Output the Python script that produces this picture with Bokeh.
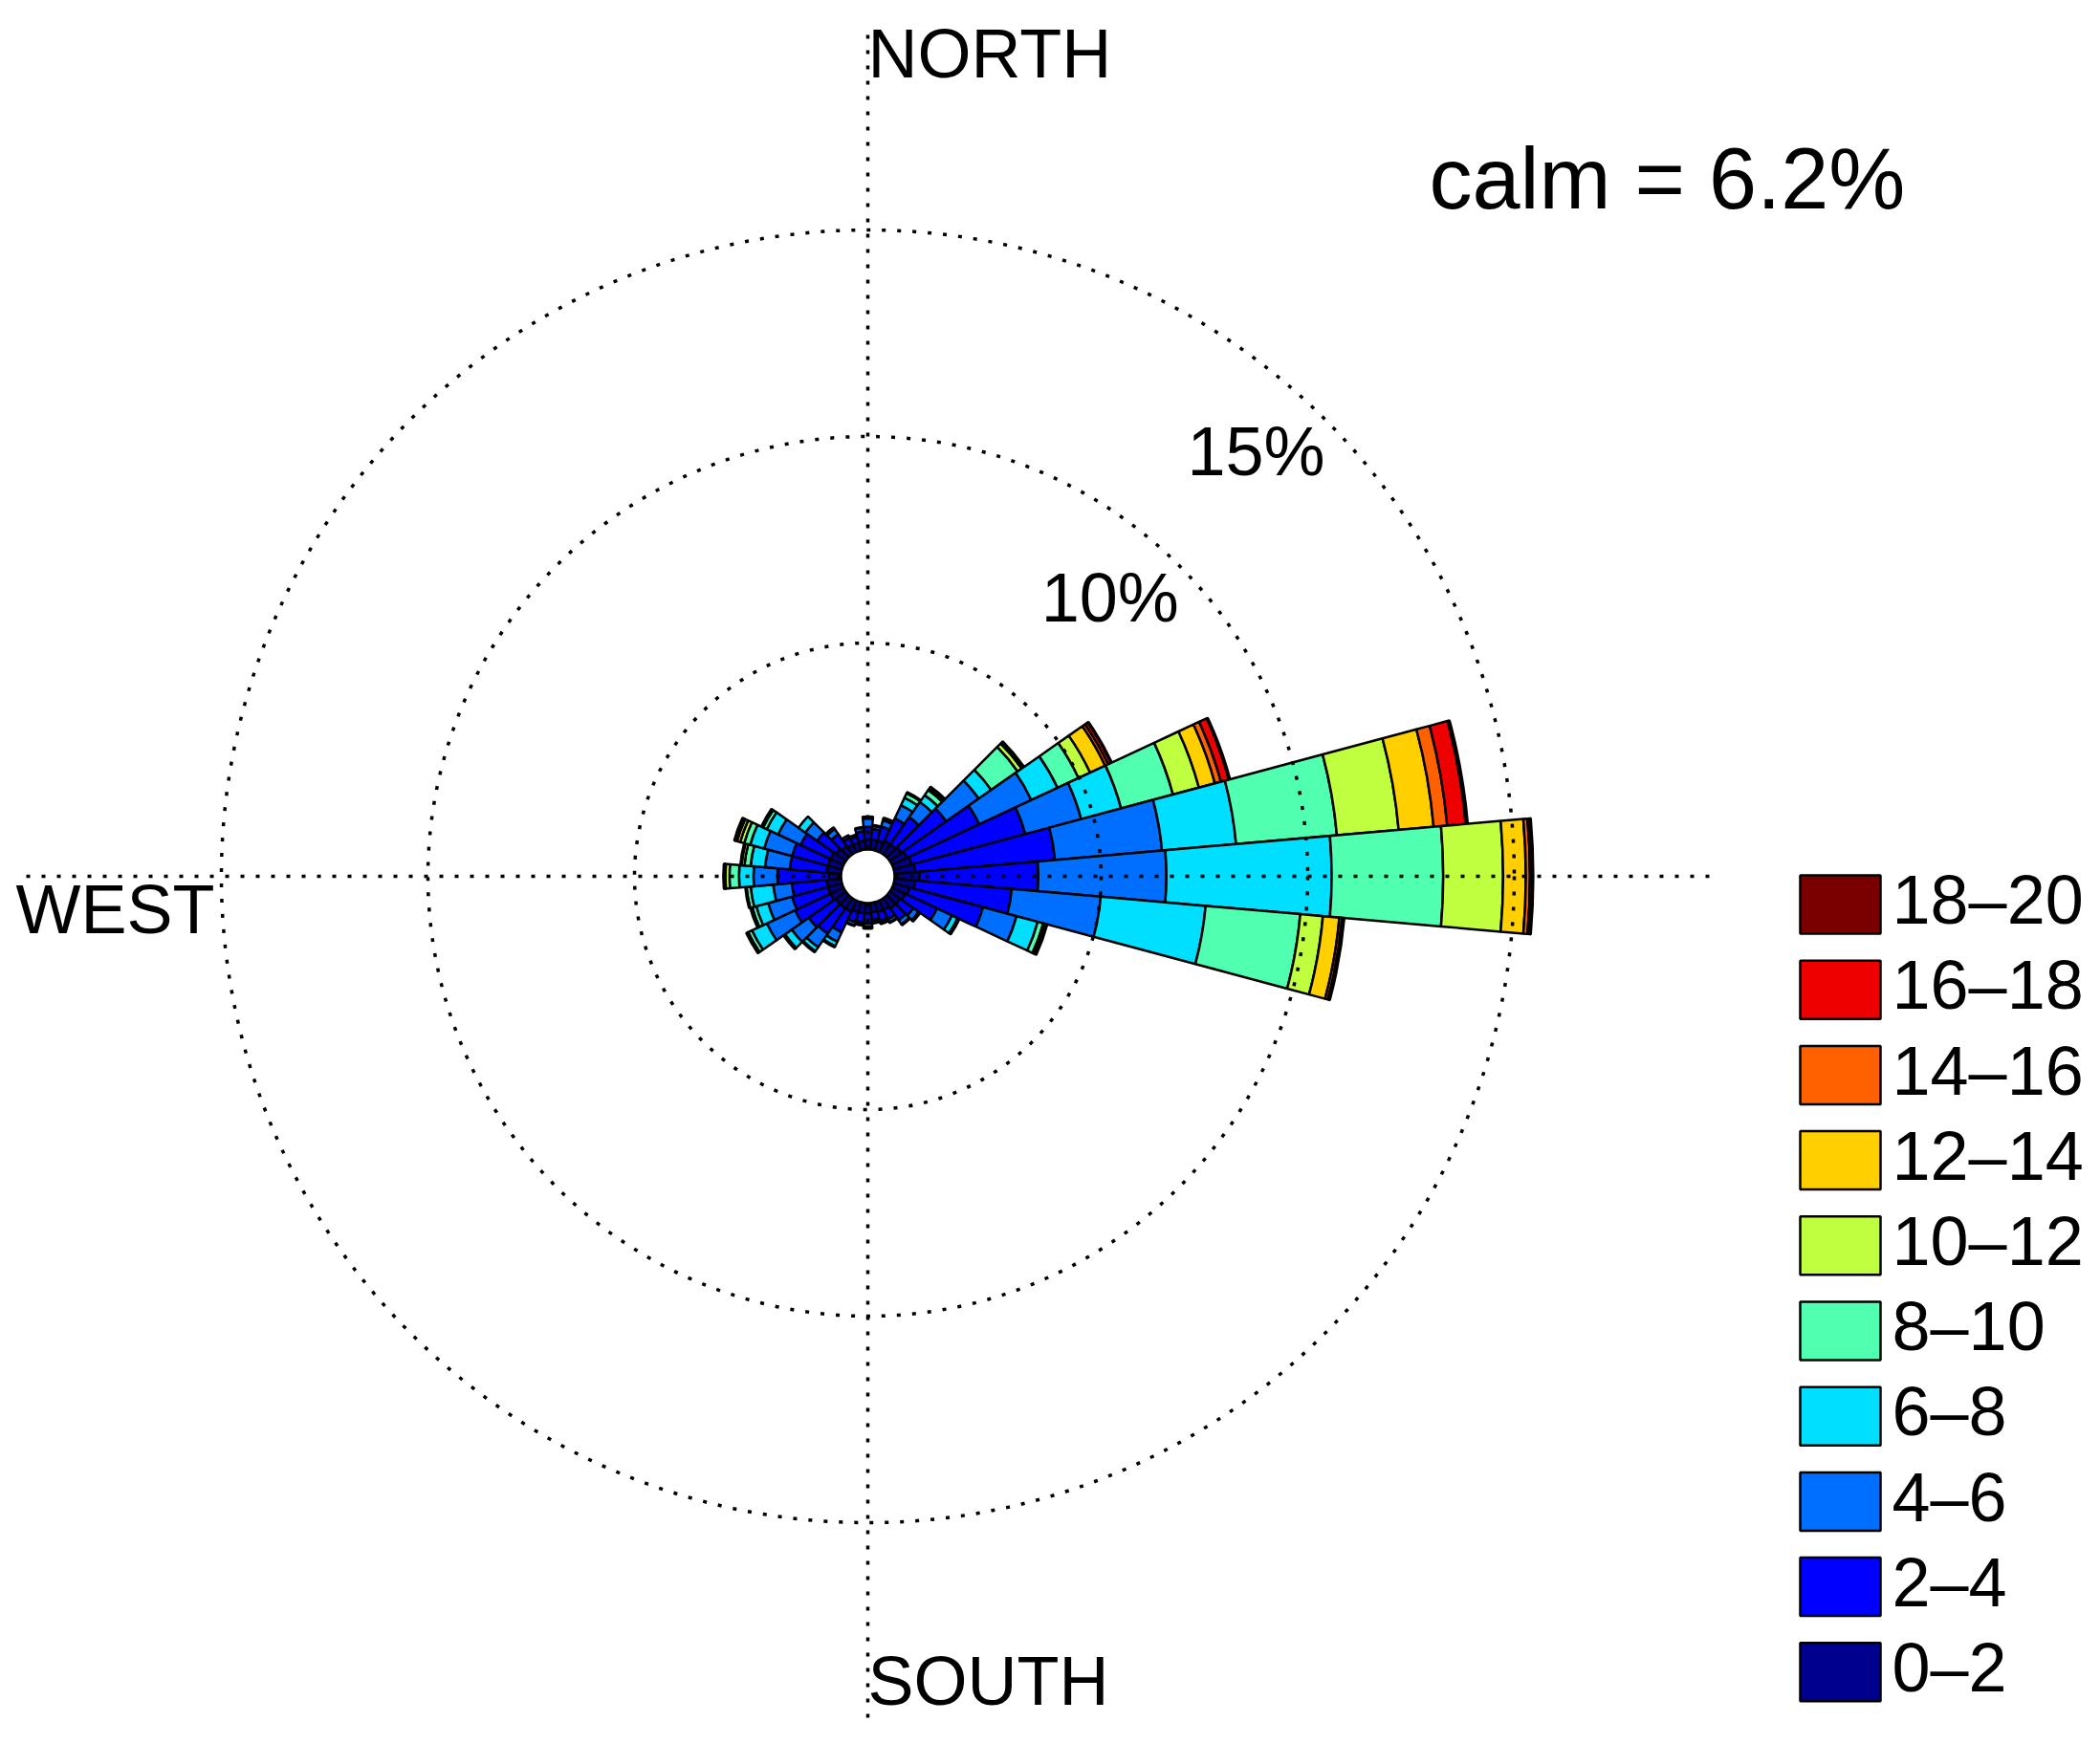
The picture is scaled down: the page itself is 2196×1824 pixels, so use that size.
import numpy as np
from bokeh.plotting import figure
from bokeh.models import Range1d, ColumnDataSource
from bokeh.core.properties import value
from bokeh.embed import file_html
from bokeh.resources import INLINE

# ---------------- data ----------------
directions = list(range(0, 360, 10))          # compass degrees (bin centres)
speed_labels = ["0–2", "2–4", "4–6", "6–8", "8–10",
                "10–12", "12–14", "14–16", "16–18", "18–20"]
speed_colors = ["#00008F", "#0000FF", "#006FFF", "#00DFFF", "#50FFAF",
                "#BFFF40", "#FFCF00", "#FF6000", "#EE0000", "#7A0000"]
calm = 6.2
ring_pcts = [5, 10, 15]
ring_labels = {10: "10%", 15: "15%"}

# frequency (%) of each speed class, one value per direction (0..350 step 10)
#          0     10    20    30    40    50    60    70    80    90    100   110   120   130   140   150   160   170   180   190   200   210   220   230   240   250   260   270   280   290   300   310   320   330   340   350
s_0_2  = [0.25, 0.25, 0.25, 0.30, 0.30, 0.35, 0.40, 0.45, 0.50, 0.60, 0.50, 0.40, 0.35, 0.30, 0.30, 0.25, 0.25, 0.22, 0.25, 0.25, 0.25, 0.30, 0.30, 0.30, 0.35, 0.35, 0.35, 0.30, 0.35, 0.35, 0.35, 0.30, 0.25, 0.20, 0.20, 0.22]
s_2_4  = [0.30, 0.25, 0.35, 0.60, 0.80, 1.32, 1.93, 2.85, 3.40, 2.88, 2.35, 1.84, 0.85, 0.40, 0.35, 0.25, 0.22, 0.20, 0.25, 0.22, 0.25, 0.55, 0.75, 0.80, 0.95, 0.90, 0.85, 1.24, 0.90, 0.90, 0.80, 0.55, 0.35, 0.18, 0.15, 0.23]
s_4_6  = [0.20, 0.08, 0.15, 0.35, 0.45, 0.96, 1.39, 1.40, 2.60, 3.10, 2.16, 0.84, 0.40, 0.15, 0.12, 0.08, 0.06, 0.06, 0.08, 0.06, 0.08, 0.25, 0.40, 0.50, 0.75, 0.60, 0.45, 0.58, 0.60, 0.70, 0.60, 0.35, 0.15, 0.07, 0.05, 0.08]
s_6_8  = [0.05, 0.02, 0.05, 0.20, 0.20, 0.37, 0.70, 1.00, 1.80, 4.00, 2.55, 0.53, 0.15, 0.05, 0.03, 0.02, 0.02, 0.02, 0.04, 0.02, 0.02, 0.12, 0.12, 0.20, 0.40, 0.30, 0.55, 0.35, 0.35, 0.35, 0.30, 0.20, 0.05, 0.00, 0.00, 0.02]
s_8_10 = [0.00, 0.00, 0.02, 0.12, 0.15, 0.78, 0.56, 1.30, 2.45, 2.70, 2.30, 0.14, 0.05, 0.00, 0.00, 0.00, 0.00, 0.00, 0.00, 0.00, 0.00, 0.03, 0.03, 0.05, 0.10, 0.10, 0.10, 0.23, 0.15, 0.15, 0.10, 0.00, 0.00, 0.00, 0.00, 0.00]
s_10_12 = [0.00, 0.00, 0.00, 0.03, 0.06, 0.12, 0.31, 0.65, 1.50, 1.45, 0.55, 0.05, 0.00, 0.00, 0.00, 0.00, 0.00, 0.00, 0.00, 0.00, 0.00, 0.00, 0.00, 0.00, 0.05, 0.05, 0.03, 0.10, 0.07, 0.10, 0.05, 0.00, 0.00, 0.00, 0.00, 0.00]
s_12_14 = [0.00, 0.00, 0.00, 0.00, 0.04, 0.05, 0.40, 0.40, 0.85, 0.55, 0.40, 0.05, 0.00, 0.00, 0.00, 0.00, 0.00, 0.00, 0.00, 0.00, 0.00, 0.00, 0.00, 0.00, 0.00, 0.00, 0.00, 0.05, 0.03, 0.08, 0.00, 0.00, 0.00, 0.00, 0.00, 0.00]
s_14_16 = [0.00, 0.00, 0.00, 0.00, 0.00, 0.02, 0.08, 0.15, 0.33, 0.10, 0.07, 0.00, 0.00, 0.00, 0.00, 0.00, 0.00, 0.00, 0.00, 0.00, 0.00, 0.00, 0.00, 0.00, 0.00, 0.00, 0.00, 0.00, 0.00, 0.05, 0.00, 0.00, 0.00, 0.00, 0.00, 0.00]
s_16_18 = [0.00, 0.00, 0.00, 0.00, 0.00, 0.00, 0.08, 0.20, 0.45, 0.06, 0.05, 0.00, 0.00, 0.00, 0.00, 0.00, 0.00, 0.00, 0.00, 0.00, 0.00, 0.00, 0.00, 0.00, 0.00, 0.00, 0.00, 0.00, 0.00, 0.02, 0.00, 0.00, 0.00, 0.00, 0.00, 0.00]
s_18_20 = [0.00, 0.00, 0.00, 0.00, 0.00, 0.00, 0.02, 0.03, 0.05, 0.02, 0.00, 0.00, 0.00, 0.00, 0.00, 0.00, 0.00, 0.00, 0.00, 0.00, 0.00, 0.00, 0.00, 0.00, 0.00, 0.00, 0.00, 0.00, 0.00, 0.00, 0.00, 0.00, 0.00, 0.00, 0.00, 0.00]

speed_classes = [s_0_2, s_2_4, s_4_6, s_6_8, s_8_10,
                 s_10_12, s_12_14, s_14_16, s_16_18, s_18_20]

# ---------------- layout ----------------
K = 43.2            # px per percent
CX, CY = 907, 916   # pixel centre of the rose in the picture
HOLE = 28 / K       # radius of the calm hole (in % units)
AXIS_PCT = 20       # axis lines reach the 20% radius
FONT = "Liberation Sans"
FIX = 0.38          # baseline correction (em) for Bokeh's text placement


def px_x(px):
    return (px - CX) / K


def px_y(py):
    return (CY - py) / K


def base_y(py, size):
    # y (data) that puts the alphabetic baseline at picture row py
    return px_y(py - FIX * size)


p = figure(width=2180, height=1808,
           x_range=Range1d(px_x(0), px_x(2180)),
           y_range=Range1d(px_y(1808), px_y(0)),
           output_backend="svg", toolbar_location=None, min_border=0,
           x_axis_type=None, y_axis_type=None)
p.grid.visible = False
p.outline_line_color = None
p.background_fill_color = "white"
p.border_fill_color = "white"

# ---------------- stacked wedges ----------------
half = np.deg2rad(5)
rows = dict(r_in=[], r_out=[], a0=[], a1=[], color=[])
for j, d in enumerate(directions):
    cum = 0.0
    phi = np.deg2rad(90 - d)
    for c, cls in enumerate(speed_classes):
        v = cls[j]
        if v <= 0:
            continue
        rows["r_in"].append(HOLE + cum)
        rows["r_out"].append(HOLE + cum + v)
        rows["a0"].append(phi - half)
        rows["a1"].append(phi + half)
        rows["color"].append(speed_colors[c])
        cum += v
n = len(rows["r_in"])
rows["x"] = [0.0] * n
rows["y"] = [0.0] * n
src = ColumnDataSource(rows)
p.annular_wedge(x="x", y="y", inner_radius="r_in", outer_radius="r_out",
                start_angle="a0", end_angle="a1", fill_color="color",
                line_color="black", line_width=2.5, source=src)

# ---------------- dotted grid ----------------
p.circle(x=[0.0] * len(ring_pcts), y=[0.0] * len(ring_pcts),
         radius=[HOLE + r for r in ring_pcts], fill_color=None,
         line_color="black", line_width=3.5, line_dash="4 12")
R = HOLE + AXIS_PCT
p.segment(x0=[0, HOLE, 0, -HOLE], y0=[HOLE, 0, -HOLE, 0],
          x1=[0, R, 0, -R], y1=[R, 0, -R, 0],
          line_color="black", line_width=3.5, line_dash="4 12")

# ring labels at 45 degrees
c45 = np.cos(np.deg2rad(45))
lx, ly, lt = [], [], []
for pct, lab in ring_labels.items():
    rr = HOLE + pct
    lx.append(rr * c45)
    ly.append(rr * c45 - (61 - FIX * 72) / K)
    lt.append(lab)
p.text(x=lx, y=ly, text=lt, text_align="right", text_baseline="alphabetic",
       text_font=value(FONT), text_font_size=value("72px"), text_color="black")

# compass labels
p.text(x=[0, 0, px_x(16)],
       y=[base_y(83, 72), base_y(1785, 72), base_y(978, 72)],
       text=["NORTH", "SOUTH", "WEST"], text_align="left",
       text_baseline="alphabetic", text_font=value(FONT),
       text_font_size=value("72px"), text_color="black")

# calm text
p.text(x=[px_x(1494)], y=[base_y(221, 90)], text=[f"calm = {calm}%"],
       text_align="left", text_baseline="alphabetic", text_font=value(FONT),
       text_font_size=value("90px"), text_color="black")

# ---------------- legend ----------------
box_l, box_r, top0, pitch, box_h = 1882, 1966, 915, 89.2, 61
order = list(range(len(speed_labels)))[::-1]   # highest class on top
lg = dict(left=[], right=[], top=[], bottom=[], color=[], tx=[], ty=[], label=[])
for i, c in enumerate(order):
    t = top0 + i * pitch
    lg["left"].append(px_x(box_l))
    lg["right"].append(px_x(box_r))
    lg["top"].append(px_y(t))
    lg["bottom"].append(px_y(t + box_h))
    lg["color"].append(speed_colors[c])
    lg["tx"].append(px_x(1978))
    lg["ty"].append(base_y(t + 53, 72))
    lg["label"].append(speed_labels[c])
lsrc = ColumnDataSource(lg)
p.quad(left="left", right="right", top="top", bottom="bottom",
       fill_color="color", line_color="black", line_width=2.5, source=lsrc)
p.text(x="tx", y="ty", text="label", text_align="left",
       text_baseline="alphabetic", text_font=value(FONT),
       text_font_size=value("72px"), text_color="black", source=lsrc)

open("out.html", "w").write(file_html(p, INLINE))
